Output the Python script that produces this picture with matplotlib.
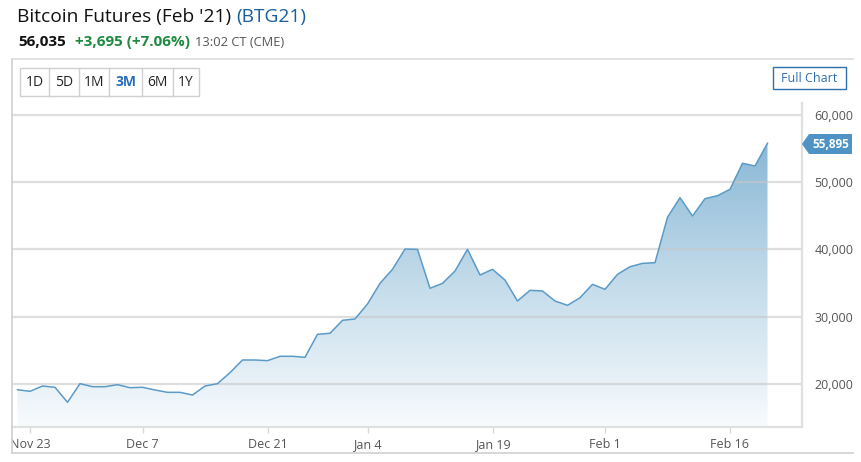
import matplotlib
matplotlib.use("Agg")
import matplotlib.pyplot as plt
import numpy as np
from matplotlib.patches import Polygon, Rectangle
from matplotlib.lines import Line2D
from matplotlib.colors import LinearSegmentedColormap
from matplotlib.transforms import Bbox

# ---------------- data ----------------
dates = ["Nov 20", "Nov 23", "Nov 24", "Nov 25", "Nov 27", "Nov 30", "Dec 1", "Dec 2", "Dec 3", "Dec 4",
         "Dec 7", "Dec 8", "Dec 9", "Dec 10", "Dec 11", "Dec 14", "Dec 15", "Dec 16", "Dec 17", "Dec 18",
         "Dec 21", "Dec 22", "Dec 23", "Dec 24", "Dec 28", "Dec 29", "Dec 30", "Dec 31",
         "Jan 4", "Jan 5", "Jan 6", "Jan 7", "Jan 8", "Jan 11", "Jan 12", "Jan 13", "Jan 14", "Jan 15",
         "Jan 19", "Jan 20", "Jan 21", "Jan 22", "Jan 25", "Jan 26", "Jan 27", "Jan 28", "Jan 29",
         "Feb 1", "Feb 2", "Feb 3", "Feb 4", "Feb 5", "Feb 8", "Feb 9", "Feb 10", "Feb 11", "Feb 12",
         "Feb 16", "Feb 17", "Feb 18", "Feb 19"]
prices = [19150, 18910, 19700, 19510, 17280, 20050, 19600, 19600, 19900, 19450,
          19510, 19110, 18760, 18760, 18360, 19700, 20050, 21680, 23570, 23570,
          23470, 24120, 24120, 23970, 27390, 27540, 29470, 29670,
          31900, 34970, 37050, 40070, 40020, 34230, 34970, 36800, 40030, 36210,
          37050, 35460, 32340, 33930, 33830, 32340, 31700, 32830, 34820,
          34080, 36310, 37440, 37940, 38040, 44790, 47710, 44980, 47560, 48000,
          48950, 52820, 52420, 55800]
tick_dates = ["Nov 23", "Dec 7", "Dec 21", "Jan 4", "Jan 19", "Feb 1", "Feb 16"]
y_ticks = [20000, 30000, 40000, 50000, 60000]
last_label = "55,895"
title_main = "Bitcoin Futures (Feb '21) "
title_sym = "(BTG21)"
last_price = "56,035"
change_text = "+3,695 (+7.06%)"
time_text = "13:02 CT (CME)"
ranges = ["1D", "5D", "1M", "3M", "6M", "1Y"]
active_range = "3M"

# ---------------- figure ----------------
W, H = 861, 462
fig = plt.figure(figsize=(W / 100, H / 100), dpi=100)
plt.rcParams['font.family'] = ['Open Sans', 'DejaVu Sans']

def fx(x):
    return x / W

def fy(y):
    return 1 - y / H

ax_l, ax_r, ax_t, ax_b = 12, 802, 103, 427
ax = fig.add_axes([fx(ax_l), fy(ax_b), (ax_r - ax_l) / W, (ax_b - ax_t) / H])

x = np.arange(len(prices))
y = np.array(prices, dtype=float)
xmin, xmax = -0.44, 62.76
ymin, ymax = 13606, 61784
ax.set_xlim(xmin, xmax)
ax.set_ylim(ymin, ymax)

# gradient fill
poly = ax.fill_between(x, y, ymin, facecolor='none', edgecolor='none')
cmap = LinearSegmentedColormap.from_list("g", ["#f8fbfd", "#c3dbea", "#86b6d5"])
grad = np.linspace(0, 1, 256).reshape(-1, 1)
im = ax.imshow(grad, cmap=cmap, origin='lower', aspect='auto',
               extent=[xmin, xmax, ymin, 57000], zorder=1, interpolation='bilinear')
im.set_clip_path(poly.get_paths()[0], transform=ax.transData)
ax.set_xlim(xmin, xmax)
ax.set_ylim(ymin, ymax)

# grid
for v in y_ticks:
    ax.axhline(v, color='#c8c8c8', lw=1.6, alpha=0.6, zorder=2)

ax.plot(x, y, color='#5b9bc8', lw=1.1, zorder=3)

# spines
for s in ['top', 'left']:
    ax.spines[s].set_visible(False)
ax.spines['right'].set_color('#e0e0e0')
ax.spines['right'].set_linewidth(1.6)
ax.spines['bottom'].set_color('#e0e0e0')
ax.spines['bottom'].set_linewidth(1.6)

tick_pos = [dates.index(d) for d in tick_dates]
ax.set_xticks(tick_pos)
ax.set_xticklabels(tick_dates, fontsize=9, color='#555555')
ax.tick_params(axis='x', length=4, width=1, color='#d8d8d8', pad=4)
ax.set_yticks(y_ticks)
ax.yaxis.tick_right()
ax.set_yticklabels([f"{v:,}" for v in y_ticks], fontsize=9, color='#555555')
ax.tick_params(axis='y', length=0, pad=9)
ax.patch.set_alpha(0)

clip = Bbox.from_extents(12, 0, W, H)
for lab in ax.get_xticklabels():
    lab.set_clip_on(True)
    lab.set_clip_box(clip)

# frame lines
fig.add_artist(Line2D([fx(12), fx(12)], [fy(59), fy(453)], color='#cfcfcf', lw=1.2))
fig.add_artist(Line2D([fx(12), fx(853)], [fy(59), fy(59)], color='#dcdcdc', lw=1.2))
fig.add_artist(Line2D([fx(12), fx(853)], [fy(453), fy(453)], color='#cfcfcf', lw=1.2))

# last price tag
tag = Polygon([[fx(802), fy(144)], [fx(809), fy(134)], [fx(852), fy(134)],
               [fx(852), fy(154)], [fx(809), fy(154)]], closed=True,
              facecolor='#4f93c4', edgecolor='none', transform=fig.transFigure)
fig.add_artist(tag)
fig.text(fx(831), fy(144), last_label, color='white', fontsize=8.5, fontweight='bold',
         ha='center', va='center')

# titles
fig.canvas.draw()
r = fig.canvas.get_renderer()
t1 = fig.text(fx(17), fy(17), title_main, fontsize=13.8, color='#111111', va='center', ha='left')
bb = t1.get_window_extent(renderer=r)
fig.text(bb.x1 / W, fy(17), title_sym, fontsize=13.8, color='#1a5e9a', va='center', ha='left')

t2 = fig.text(fx(18), fy(42), last_price, fontsize=11, fontweight='bold', color='#111111', va='center')
bb = t2.get_window_extent(renderer=r)
t3 = fig.text((bb.x1 + 9) / W, fy(42), change_text, fontsize=11, fontweight='bold', color='#1e8a3f', va='center')
bb = t3.get_window_extent(renderer=r)
fig.text((bb.x1 + 5) / W, fy(42.5), time_text, fontsize=9.3, color='#555555', va='center')

# range buttons
edges = [20, 49, 79, 109, 142, 173, 199]
fig.add_artist(Rectangle((fx(20), fy(96)), (199 - 20) / W, (96 - 68) / H,
                         facecolor='white', edgecolor='#d0d0d0', lw=1, transform=fig.transFigure))
for e in edges[1:-1]:
    fig.add_artist(Line2D([fx(e), fx(e)], [fy(68), fy(96)], color='#d0d0d0', lw=1))
for i, lab in enumerate(ranges):
    cx = (edges[i] + edges[i + 1]) / 2
    active = lab == active_range
    fig.text(fx(cx), fy(82), lab, fontsize=10, ha='center', va='center',
             color='#2a6ebb' if active else '#222222',
             fontweight='bold' if active else 'normal')

# full chart button
fig.add_artist(Rectangle((fx(773), fy(89)), (846 - 773) / W, (89 - 67) / H,
                         facecolor='white', edgecolor='#2f6fad', lw=1, transform=fig.transFigure))
fig.text(fx(809.5), fy(78), "Full Chart", fontsize=9, color='#2f6fad', ha='center', va='center')

fig.savefig("out.png", dpi=100)
